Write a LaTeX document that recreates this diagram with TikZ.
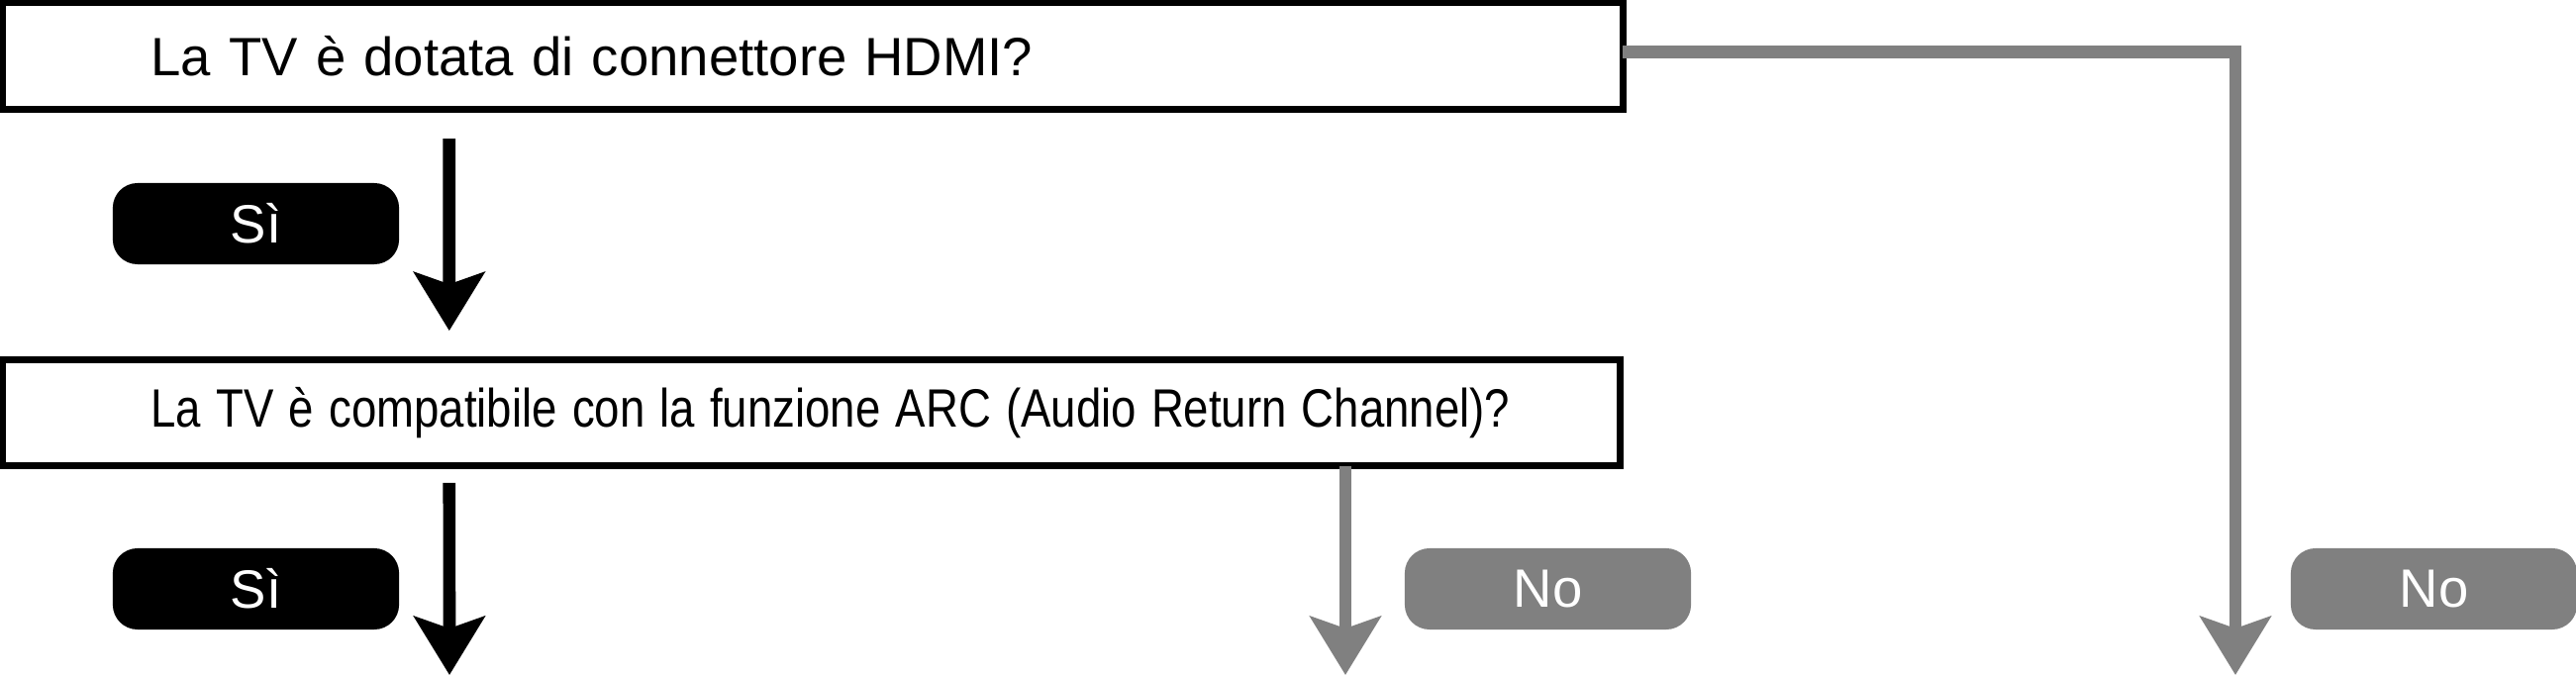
\documentclass[tikz,border=0pt]{standalone}
\usepackage{fontspec}
\setmainfont{Liberation Sans}
\usepackage{graphicx}
\usetikzlibrary{arrows.meta,positioning}
\definecolor{nogray}{RGB}{128,128,128}
\newcommand{\Narrow}[2]{\scalebox{#1}[1]{#2}}

\begin{document}
\begin{tikzpicture}[x=0.01cm, y=-0.01cm,
  qbox/.style={draw, line width=2pt, outer sep=0pt, inner ysep=0pt,
    inner xsep=1.5cm, minimum height=1.075cm, align=left,
    font=\fontsize{15.5}{18}\selectfont},
  yesbox/.style={fill=black, text=white, rounded corners=0.25cm,
    minimum width=2.89cm, minimum height=0.82cm, inner sep=0pt,
    font=\fontsize{15.5}{18}\selectfont},
  nobox/.style={yesbox, fill=nogray},
  flow/.style={line width=3.6pt,
    -{Stealth[length=0.59cm, width=0.71cm, inset=0.12cm]}},
  noflow/.style={flow, draw=nogray}]

  \useasboundingbox (0,0) rectangle (2602,683);

  % questions
  \node[qbox, text width=13.36cm] (hdmi) at (821,56.75)
    {\Narrow{1.0}{La TV è dotata di connettore HDMI?}};
  \node[qbox, text width=13.33cm] (arc) at (819.5,417)
    {\Narrow{0.836}{La TV è compatibile con la funzione ARC (Audio Return Channel)?}};

  % answers
  \node[yesbox] (si1) at (258.5,226) {Sì};
  \node[yesbox] (si2) at (258.5,595) {Sì};
  \node[nobox] (no1) at (1563.5,595) {No};
  \node[nobox] (no2) at (2458.5,595) {No};

  % loose ends
  \coordinate (siend) at (454,682);
  \coordinate (noend1) at (1359,682);
  \coordinate (noend2) at (2258,682);

  \draw[flow, shorten <=0.295cm, shorten >=0.29cm]
    ([xshift=4.51cm]hdmi.south west) -- ([xshift=4.51cm]arc.north west); % hdmi->arc
  \draw[flow, shorten <=0.17cm]
    ([xshift=4.51cm]arc.south west) -- (siend); % arc->si
  \draw[noflow] (arc.south -| noend1) -- (noend1); % arc->no
  \draw[noflow] ([yshift=0.04cm]hdmi.east) -| (noend2); % hdmi->no

\end{tikzpicture}
\end{document}
